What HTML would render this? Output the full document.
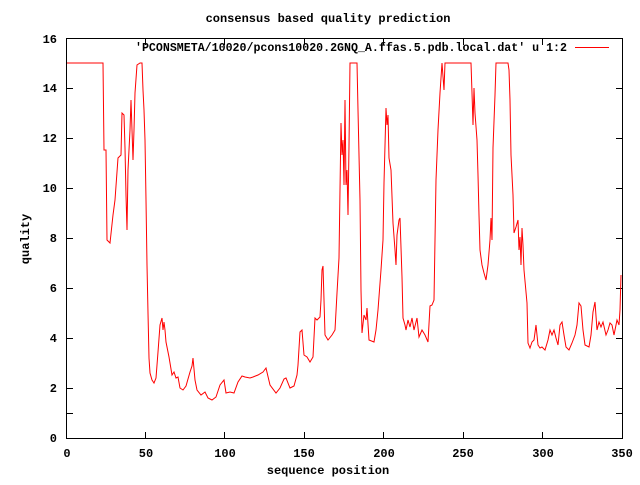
<!DOCTYPE html>
<html><head><meta charset="utf-8"><style>
html,body{margin:0;padding:0;background:#fff}
svg text{font-family:"Liberation Mono","DejaVu Sans Mono",monospace;font-size:12px;font-weight:bold;fill:#000}
</style></head><body>
<svg width="640" height="480" viewBox="0 0 640 480" xmlns="http://www.w3.org/2000/svg">
<rect x="0" y="0" width="640" height="480" fill="#fff"/>
<g stroke="#000" stroke-width="1" fill="none" shape-rendering="crispEdges">
<rect x="66.5" y="38.5" width="556" height="400"/>
<path d="M67 413.5h6M616 413.5h6M67 388.5h6M616 388.5h6M67 338.5h6M616 338.5h6M67 288.5h6M616 288.5h6M67 238.5h6M616 238.5h6M67 188.5h6M616 188.5h6M67 138.5h6M616 138.5h6M67 88.5h6M616 88.5h6"/>
<path d="M145.5 438v-6M145.5 39v6M224.5 438v-6M224.5 39v6M304.5 438v-6M304.5 39v6M383.5 438v-6M383.5 39v6M463.5 438v-6M463.5 39v6M542.5 438v-6M542.5 39v6"/>
</g>
<g text-anchor="end">
<text x="57" y="442">0</text><text x="57" y="392">2</text><text x="57" y="342">4</text><text x="57" y="292">6</text><text x="57" y="242">8</text><text x="57" y="192">10</text><text x="57" y="142">12</text><text x="57" y="92">14</text><text x="57" y="43">16</text>
</g>
<g text-anchor="middle">
<text x="67" y="457">0</text><text x="146" y="457">50</text><text x="225" y="457">100</text><text x="304" y="457">150</text><text x="384" y="457">200</text><text x="463" y="457">250</text><text x="543" y="457">300</text><text x="622" y="457">350</text>
<text x="328" y="474">sequence position</text>
<text x="328" y="22">consensus based quality prediction</text>
<text transform="translate(29,239) rotate(-90)">quality</text>
</g>
<text x="135" y="51" textLength="432" lengthAdjust="spacingAndGlyphs">'PCONSMETA/10020/pcons10020.2GNQ_A.ffas.5.pdb.local.dat' u 1:2</text>
<rect x="575" y="47" width="34" height="1" fill="#f00"/>
<polyline fill="none" stroke="#f00" stroke-width="1" points="
67,63 103,63 104,150 106,150 107,240 110,243 113,215 115,200 118,158 121,155 122,113 124,115 125,148 126,195 127,230 128,170 130,130 131,100 132,130 133,160 134,130 135,93 137,65 140,63 142,63 143,90 144,110 145,140 146,200 147,265 148,313 149,358 150,373 152,380 154,383 156,378 158,352 160,325 162,318 163,330 164,322 165,330 166,342 169,357 172,375 174,372 176,378 178,377 180,388 183,390 186,386 190,372 192,366 193,358 195,380 197,390 201,395 205,392 208,398 212,400 216,397 220,385 224,380 226,393 230,392 234,393 238,382 242,376 245,377 250,378
253,377 258,375 263,372 266,368 270,385 276,393 280,388 284,379 286,378 290,388 294,386 297,375 298,365 300,332 302,330 304,355 307,357 310,362 313,357 315,318 317,320 320,317 321,300 322,270 323,266 324,300 325,335 328,340 332,335 335,330 337,293 339,258 340,190 341,123 342,155 343,140 344,185 345,100 346,185 347,170 348,215 349,146 350,63 357,63 358,110 360,200 361,290 362,333 364,315 366,320 367,308 369,340 374,342 376,330 378,310 381,270 383,240 384,183 386,108 387,125 388,115 389,158 391,170 393,223 395,250 396,265 397,235 399,220 400,218 402,277 403,318 405,325 406,330 408,320 410,327 412,318 414,330 417,318 419,337 422,330 425,335 428,342 430,306 432,305 434,300 436,180 438,130 440,93 442,63 444,90 445,63
471,63 472,93 473,125 474,88 475,113 477,140 478,175 479,215 480,250 482,265 484,273 486,280 488,265 490,240 491,218 492,240 493,148 495,95 496,63 508,63 509,70 510,100 511,155 512,175 513,195 514,233 516,227 518,220 519,250 520,237 521,265 522,228 523,245 524,270 527,303 528,343 530,348 532,342 534,340 536,325 538,345 540,348 542,347 545,350 548,340 550,330 552,335 554,330 556,338 558,345 560,325 562,322 564,335 566,347 569,350 572,343 575,335 577,325 579,303 581,306 583,330 585,345 589,347 591,335 593,312 595,302 597,330 599,322 601,327 603,322 606,335 608,330 610,323 612,325 614,335 617,320 619,325 620,310 621,275"/>
</svg>
</body></html>
